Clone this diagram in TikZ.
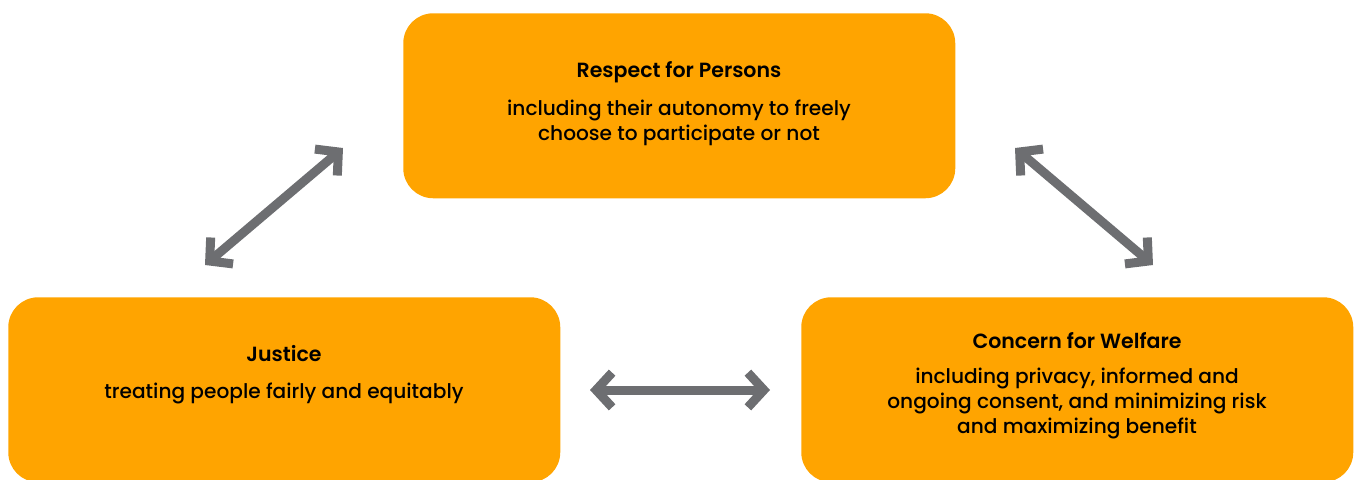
\documentclass[tikz,border=0pt]{standalone}
\usepackage{fontspec}
\setmainfont{Poppins}[UprightFont={* Medium},BoldFont={* SemiBold}]
\usepackage{tikz}
\usetikzlibrary{arrows.meta}
\usetikzlibrary{positioning}
\definecolor{boxorange}{RGB}{255,164,0}
\definecolor{arrowgray}{RGB}{109,110,113}
\tikzset{principle/.style={fill=boxorange, draw=none, rounded corners=22.5pt, minimum width=414pt, minimum height=138.75pt, anchor=north west}}
\tikzset{both/.style={arrowgray, line width=6.75pt, {Straight Barb[length=12pt,width=26pt]}-{Straight Barb[length=12pt,width=26pt]}}}

\begin{document}
\begin{tikzpicture}[x=0.75pt, y=-0.75pt]
	% Default action for text nodes
	\tikzstyle{heading}=[font=\fontsize{15.4}{18.75}\selectfont\bfseries, anchor=base, inner sep=0pt];
	\tikzstyle{detail}=[font=\fontsize{15.1}{18.75}\selectfont, anchor=base, align=center, inner sep=0pt];

	\useasboundingbox (0,0) rectangle (1354,479);

	% Boxes
	\node[principle] (respect) at (403,13) {};
	\node[principle] (justice) at (8,297) {};
	\node[principle] (welfare) at (801,297) {};

	% Texts (anchored at the baseline of the last line)
	\node[heading] (respecttitle) at (679,77) {Respect for Persons};
	\node[detail] (respecttext) at (679,140) {including their autonomy to freely\\choose to participate or not};
	\node[heading] (justicetitle) at (284,361) {Justice};
	\node[detail] (justicetext) at (284,398) {treating people fairly and equitably};
	\node[heading] (welfaretitle) at (1077,348) {Concern for Welfare};
	\node[detail] (welfaretext) at (1077,433) {including privacy, informed and\\ongoing consent, and minimizing risk\\and maximizing benefit};

	% Arrow ends
	\coordinate (leftlow) at (205,265);	\coordinate (lefthigh) at (343,148);
	\coordinate (righthigh) at (1015,148);	\coordinate (rightlow) at (1153,265);
	\coordinate (midleft) at (590,390);	\coordinate (midright) at (770,390);

	% Arrows
	\draw[both] (leftlow) -- (lefthigh);
	\draw[both] (righthigh) -- (rightlow);
	\draw[both] (midleft) -- (midright);
\end{tikzpicture}
\end{document}
